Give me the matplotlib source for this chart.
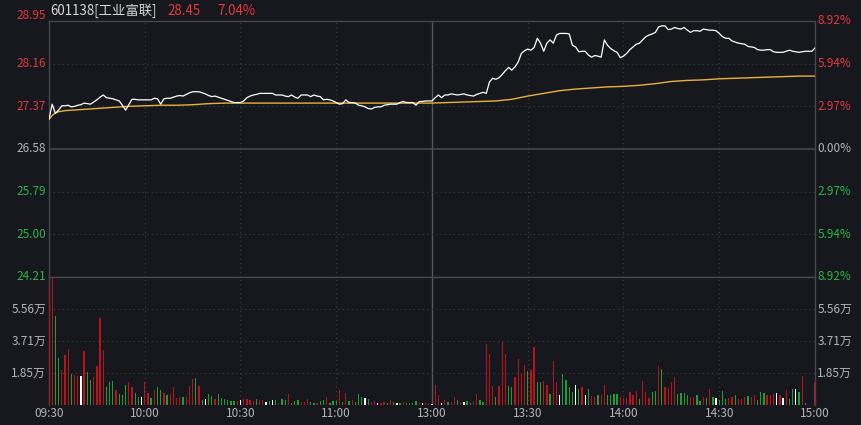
import matplotlib
matplotlib.use("Agg")
from matplotlib import pyplot as plt
import numpy as np

# prior close and axis levels
prev_close = 26.58
price_levels = [28.95, 28.16, 27.37, 26.58, 25.79, 25.00, 24.21]
pct_labels = ["8.92%", "5.94%", "2.97%", "0.00%", "2.97%", "5.94%", "8.92%"]
vol_levels = [1.85, 3.71, 5.56]
vol_labels = ["1.85万", "3.71万", "5.56万"]
vol_top = 7.41

time_ticks = [0, 30, 60, 90, 120, 150, 180, 210, 240]
time_labels = ["09:30", "10:00", "10:30", "11:00", "13:00", "13:30", "14:00", "14:30", "15:00"]

# minute prices, 09:30 .. 11:30/13:00 .. 15:00 (241 points)
price = [
    27.13, 27.41, 27.24, 27.30, 27.38, 27.38, 27.39, 27.36, 27.37, 27.39,
    27.40, 27.43, 27.42, 27.41, 27.45, 27.49, 27.54, 27.58, 27.53, 27.52,
    27.51, 27.49, 27.47, 27.39, 27.30, 27.40, 27.50, 27.50, 27.49, 27.49,
    27.49, 27.49, 27.49, 27.52, 27.51, 27.41, 27.51, 27.52, 27.52, 27.54,
    27.56, 27.57, 27.56, 27.59, 27.62, 27.64, 27.64, 27.64, 27.62, 27.60,
    27.57, 27.55, 27.56, 27.54, 27.52, 27.50, 27.48, 27.46, 27.44, 27.44,
    27.44, 27.47, 27.53, 27.56, 27.58, 27.59, 27.61, 27.61, 27.61, 27.61,
    27.61, 27.58, 27.58, 27.58, 27.56, 27.55, 27.58, 27.54, 27.52, 27.58,
    27.58, 27.58, 27.55, 27.58, 27.56, 27.55, 27.49, 27.50, 27.49, 27.47,
    27.44, 27.41, 27.42, 27.49, 27.44, 27.44, 27.43, 27.39, 27.38, 27.36,
    27.33, 27.32, 27.35, 27.36, 27.36, 27.39, 27.40, 27.41, 27.41, 27.41,
    27.44, 27.46, 27.44, 27.44, 27.44, 27.39, 27.46, 27.46, 27.47, 27.47,
    27.47,
    27.53, 27.58, 27.53, 27.58, 27.58, 27.60, 27.59, 27.58, 27.59, 27.60,
    27.58, 27.57, 27.56, 27.59, 27.61, 27.63, 27.61, 27.82, 27.89, 27.87,
    27.90, 27.96, 28.03, 28.09, 28.04, 28.10, 28.19, 28.35, 28.40, 28.43,
    28.41, 28.46, 28.63, 28.54, 28.39, 28.54, 28.60, 28.54, 28.69, 28.72,
    28.72, 28.72, 28.71, 28.50, 28.47, 28.38, 28.39, 28.39, 28.32, 28.28,
    28.31, 28.30, 28.28, 28.60, 28.50, 28.44, 28.40, 28.37, 28.27, 28.30,
    28.35, 28.42, 28.47, 28.52, 28.54, 28.60, 28.66, 28.69, 28.71, 28.74,
    28.84, 28.86, 28.86, 28.79, 28.80, 28.83, 28.81, 28.80, 28.83, 28.78,
    28.74, 28.77, 28.77, 28.76, 28.80, 28.79, 28.78, 28.78, 28.77, 28.72,
    28.66, 28.63, 28.63, 28.58, 28.56, 28.54, 28.53, 28.52, 28.48, 28.47,
    28.46, 28.42, 28.41, 28.41, 28.42, 28.42, 28.38, 28.37, 28.37, 28.37,
    28.39, 28.41, 28.39, 28.38, 28.37, 28.38, 28.39, 28.39, 28.39, 28.45,
]

# average price line, read at these minutes
avg_min = [0, 1, 2, 3, 5, 10, 15, 20, 25, 30, 35, 40, 45, 50, 55, 60, 70, 80, 90,
           100, 110, 120, 125, 130, 135, 140, 145, 150, 155, 160, 165, 170, 175,
           180, 185, 190, 195, 200, 205, 210, 215, 220, 225, 230, 235, 240]
avg_val = [27.13, 27.20, 27.25, 27.27, 27.29, 27.31, 27.33, 27.35, 27.37, 27.38,
           27.39, 27.39, 27.40, 27.42, 27.43, 27.43, 27.43, 27.43, 27.43, 27.43,
           27.43, 27.43, 27.44, 27.45, 27.46, 27.47, 27.50, 27.56, 27.61, 27.66,
           27.69, 27.71, 27.73, 27.74, 27.76, 27.79, 27.83, 27.85, 27.86, 27.88,
           27.89, 27.90, 27.91, 27.92, 27.93, 27.93]

# minute volume in 万 shares, and colour code r=up g=down w=flat
volume = [
    6.95, 7.40, 5.18, 2.74, 2.05, 2.88, 3.27, 1.82, 1.76, 1.70,
    1.66, 3.13, 1.92, 1.43, 1.60, 2.25, 5.03, 3.19, 1.02, 1.31,
    1.37, 0.84, 0.65, 0.59, 1.13, 1.33, 1.02, 0.69, 0.49, 0.49,
    1.31, 0.72, 0.39, 0.84, 1.02, 0.84, 0.69, 0.57, 0.65, 1.04,
    0.39, 0.49, 0.45, 0.49, 1.08, 1.51, 1.56, 1.08, 0.29, 0.37,
    0.65, 0.53, 0.37, 0.65, 0.43, 0.35, 0.29, 0.25, 0.25, 0.23,
    0.29, 0.35, 0.33, 0.27, 0.25, 0.35, 0.31, 0.29, 0.20, 0.25,
    0.29, 0.29, 0.14, 0.35, 0.29, 0.61, 0.14, 0.23, 0.29, 0.20,
    0.18, 0.35, 0.20, 0.14, 0.14, 0.25, 0.29, 0.45, 0.14, 0.25,
    0.25, 0.84, 0.20, 0.69, 0.25, 0.29, 0.20, 0.65, 0.49, 0.43,
    0.35, 0.20, 0.25, 0.14, 0.14, 0.18, 0.10, 0.29, 0.20, 0.14,
    0.14, 0.18, 0.10, 0.10, 0.14, 0.25, 0.10, 0.14, 0.14, 0.10,
    0.06,
    1.17, 0.55, 0.10, 0.29, 0.20, 0.20, 0.49, 0.29, 0.20, 0.20,
    0.25, 0.14, 0.25, 0.63, 0.29, 0.20, 3.52, 2.94, 1.12, 0.49,
    1.08, 3.66, 2.98, 1.12, 1.02, 1.62, 2.64, 1.82, 2.31, 1.96,
    2.05, 3.38, 1.33, 1.31, 1.41, 1.17, 0.65, 2.54, 1.31, 0.59,
    1.82, 1.47, 1.02, 0.78, 1.17, 0.94, 1.04, 0.55, 0.90, 0.53,
    0.49, 0.55, 0.59, 1.13, 0.59, 0.55, 0.65, 0.65, 0.49, 0.43,
    0.43, 0.78, 0.59, 0.82, 0.35, 1.37, 0.78, 0.39, 0.76, 0.82,
    2.25, 2.11, 1.02, 0.98, 1.31, 1.60, 0.63, 0.72, 0.69, 0.59,
    0.45, 0.49, 0.55, 0.25, 0.49, 0.43, 0.90, 0.49, 0.43, 0.29,
    0.82, 0.33, 0.43, 0.49, 0.55, 0.35, 0.35, 0.45, 0.53, 0.49,
    0.55, 0.29, 0.76, 0.72, 0.59, 0.59, 0.63, 0.69, 0.59, 0.43,
    0.84, 0.35, 0.90, 0.90, 0.78, 1.66, 0.10, 0.00, 0.00, 1.33,
]
vol_dir = (
    "rrggrrrgrr" "wrggrrrrgg" "grgggrrggw" "rrgrggrgrr" "rrgrrrgrgw"
    "ggrggggggr" "wrrrrgrrwg" "wgrggrgggr" "rrggrggrgg" "grgrgrgggw"
    "grrwrrgrgw" "grggggrwrr" "w"
    "rrwrgrrgrw" "ggrrggrrrg" "rrrggrrrrg" "rrggrrgrrw" "ggggwgrwgr"
    "rgrrggggrr" "rrrrgrrrgg" "rgrrrrgggg" "rrggrgrgwg" "ggrrgrrrgr"
    "rgggrrrwrw" "rggwgrgwwr"
)

bg = "#16181d"
grid_c = "#3b3e45"
solid_c = "#44474e"
red_txt = "#e5393f"
green_txt = "#2db548"
gray_txt = "#b4b6ba"
bar_colors = {"r": "#b8141b", "g": "#1f9e38", "w": "#ffffff"}

plt.rcParams["font.family"] = ["Noto Sans CJK SC", "DejaVu Sans"]

fig = plt.figure(figsize=(8.62, 4.25), dpi=100, facecolor=bg)
W, H = 862, 425
left, right = 49, 815
ax = fig.add_axes([left / W, 1 - 277 / H, (right - left) / W, (277 - 21) / H])
axv = fig.add_axes([left / W, 1 - 405 / H, (right - left) / W, (405 - 277) / H])

x = np.arange(len(price))

for a in (ax, axv):
    a.set_facecolor(bg)
    a.set_xlim(0, 240)
    a.set_xticks([])
    a.set_yticks([])
    for s in a.spines.values():
        s.set_color(solid_c)
        s.set_linewidth(1.0)
    # vertical time grid
    for t in time_ticks[1:-1]:
        if t == 120:
            a.axvline(t, color="#55585f", linewidth=1.0, zorder=1)
        else:
            a.axvline(t, color=grid_c, linewidth=0.8, linestyle=(0, (1, 3)), zorder=1)
axv.spines["bottom"].set_visible(False)

# price panel
ax.set_ylim(price_levels[-1], price_levels[0])
for lv in price_levels[1:-1]:
    if lv == prev_close:
        ax.axhline(lv, color=solid_c, linewidth=1.2, zorder=1)
    else:
        ax.axhline(lv, color=grid_c, linewidth=0.8, linestyle=(0, (1, 3)), zorder=1)

ax.plot(avg_min, avg_val, color="#e9b23a", linewidth=1.0, zorder=3)
ax.plot(x, price, color="white", linewidth=0.9, zorder=4)

for i, (lv, pl) in enumerate(zip(price_levels, pct_labels)):
    if lv > prev_close:
        c = red_txt
    elif lv < prev_close:
        c = green_txt
    else:
        c = gray_txt
    dy = 0.1 if i == 0 else 0.0
    ax.text(-0.004, lv + dy, f"{lv:.2f}", color=c, fontsize=8.5, ha="right", va="center",
            transform=ax.get_yaxis_transform(), clip_on=False)
    ax.text(1.003, lv, pl, color=c, fontsize=8.5, ha="left", va="center",
            transform=ax.get_yaxis_transform(), clip_on=False)

# volume panel
axv.set_ylim(0, vol_top)
for lv in vol_levels:
    axv.axhline(lv, color=grid_c, linewidth=0.8, linestyle=(0, (1, 3)), zorder=1)
axv.bar(x, volume, width=0.4, color=[bar_colors[d] for d in vol_dir], zorder=3)
for lv, lb in zip(vol_levels, vol_labels):
    axv.text(-0.004, lv, lb, color=gray_txt, fontsize=8.5, ha="right", va="center",
             transform=axv.get_yaxis_transform(), clip_on=False)
    axv.text(1.003, lv, lb, color=gray_txt, fontsize=8.5, ha="left", va="center",
             transform=axv.get_yaxis_transform(), clip_on=False)

for t, lb in zip(time_ticks, time_labels):
    axv.text(t, -0.07, lb, color=gray_txt, fontsize=8.5, ha="center", va="center",
             transform=axv.get_xaxis_transform(), clip_on=False)

# header
fig.text(50 / W, 1 - 11 / H, "601138[工业富联]", color="#d6d7d9", fontsize=9.6, ha="left", va="center")
fig.text(167 / W, 1 - 11 / H, "28.45", color=red_txt, fontsize=9.6, ha="left", va="center")
fig.text(217 / W, 1 - 11 / H, "7.04%", color=red_txt, fontsize=9.6, ha="left", va="center")

fig.savefig("out.png", dpi=100, facecolor=bg)
